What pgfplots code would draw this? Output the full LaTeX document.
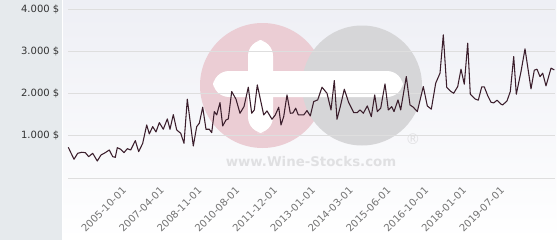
\documentclass[border=0pt]{standalone}
\usepackage{pgfplots}
\pgfplotsset{compat=1.18}
\usepackage{fontspec}
\setmainfont{DejaVu Sans}
\definecolor{strip}{HTML}{E6EAED}
\definecolor{paneltop}{HTML}{EEEFF5}
\definecolor{wpink}{HTML}{EBCDD4}
\definecolor{wgray}{HTML}{D6D6D8}
\definecolor{wtext}{HTML}{E0E0E2}
\definecolor{linec}{HTML}{3B1E2C}
\begin{document}
\begin{tikzpicture}
\begin{scope}[x=0.75pt,y=0.75pt]
\useasboundingbox (0,0) rectangle (560,240);
\fill[white] (0,0) rectangle (560,240);
\fill[strip] (0,0) rectangle (62,240);
\shade[top color=paneltop, bottom color=white] (63,0) rectangle (556,240);
% watermark
\fill[wpink] (262.5,154.5) circle (62.5);
\fill[wgray] (362,154.5) circle (60);
\fill[white, rounded corners=12] (213,143) rectangle (403,169);
\fill[white, rounded corners=12] (248,107) rectangle (273,200);
\node[text=wtext, font=\bfseries\fontsize{10}{10}\selectfont] at (311,78) {www.Wine-Stocks.com};
\node[text=wtext, font=\fontsize{11}{11}\selectfont] at (413,101) {\textregistered};
\end{scope}
\begin{axis}[
  at={(51pt,46.5pt)}, anchor=south west,
  scale only axis, width=365.25pt, height=126.75pt,
  xmin=68, xmax=555, ymin=0, ymax=4000,
  axis line style={draw=none},
  major tick length=0pt,
  ymajorgrids, xmajorgrids=false,
  grid style={color=black!13, line width=0.75pt},
  ytick={0,1000,2000,3000,4000},
  yticklabels={,1.000 \$,2.000 \$,3.000 \$,4.000 \$},
  yticklabel style={font=\fontsize{7.5}{8}\selectfont, text=black!80, xshift=-3pt},
  xtick={120,157.8,195.6,233.4,271.2,309,346.8,384.6,422.4,460.2,498},
  xticklabels={2005-10-01,2007-04-01,2008-11-01,2010-08-01,2011-12-01,2013-01-01,2014-03-01,2015-06-01,2016-10-01,2018-01-01,2019-07-01},
  xticklabel style={rotate=45, anchor=east, font=\fontsize{7.5}{8}\selectfont, text=black!55, yshift=-8pt},
  clip=false,
]
\addplot[linec, line width=0.8pt, line join=round] table {
x y
68.3 727
74 443
77.7 585
81.7 609
85.3 600
88.7 505
92.7 585
97.3 403
101 545
105.3 600
109.3 663
112.7 505
115.3 490
117.3 718
120.7 680
124 600
127.3 694
130.7 663
135.3 884
138.7 624
142.7 822
146.7 1256
149.3 1043
152.7 1216
156 1090
159.3 1311
163.3 1154
167.3 1398
170 1154
173.3 1500
176.7 1137
180.7 1059
184 822
187.3 1865
193.3 758
196.7 1216
199.3 1296
202.7 1675
206 1154
209.3 1154
211.7 1074
214.3 1572
216.7 1493
220 1785
222.7 1232
226 1374
228.3 1398
231.7 2046
236 1865
240 1532
244 1690
248.3 2149
251.7 1532
254.3 1611
257.3 2204
263.7 1493
267 1588
272 1391
275.3 1493
278.7 1675
281 1256
283.7 1453
287 1967
290.3 1532
293 1540
295.7 1652
298.3 1493
303.7 1493
307 1595
310.3 1469
313.7 1809
317.7 1848
322 2149
327 2006
331 1611
334.3 2306
337 1391
340.3 1690
344.3 2101
348.7 1785
353.7 1548
357.3 1548
360 1611
363.3 1532
367.3 1706
371.3 1453
374.7 1967
377.3 1572
380.7 1652
385 2227
388.3 1611
391.7 1690
394 1572
398 1848
400.7 1611
406.3 2400
410 1730
413.3 1675
417.3 1572
423.3 2164
427.3 1706
431.3 1628
435.7 2244
440 2481
443.3 3389
446.7 2149
451 2046
453.7 2006
457.7 2164
461 2575
464.3 2220
467.7 3192
470.3 1983
475 1872
478.3 1841
481.7 2156
484.3 2156
487.7 1950
491 1794
493.7 1777
497 1841
501 1746
502.7 1730
507 1825
510.3 2046
513.7 2875
516.3 1983
521 2519
525 3057
531 2109
534.3 2552
537 2575
540 2400
542.7 2481
546 2180
551 2599
554.3 2559
};
\end{axis}
\end{tikzpicture}
\end{document}
